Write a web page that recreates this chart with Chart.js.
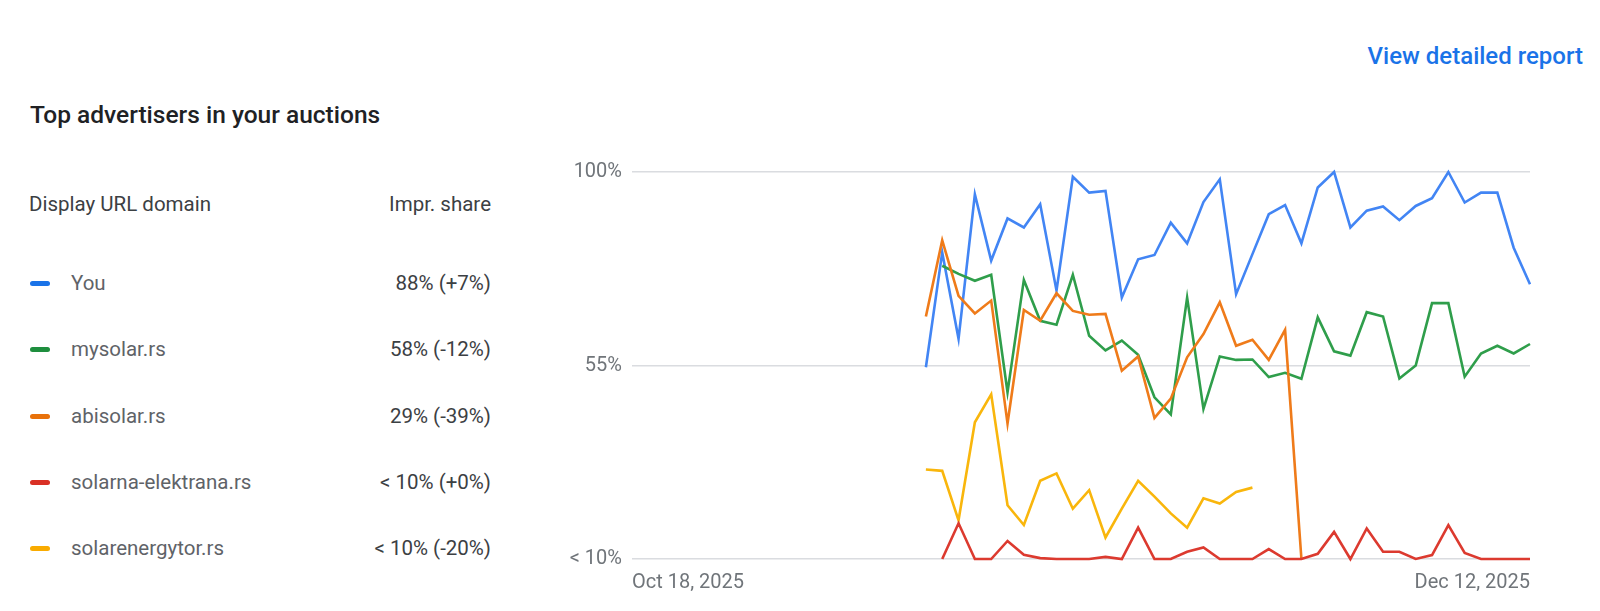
<!DOCTYPE html>
<html>
<head>
<meta charset="utf-8">
<script src="https://cdn.jsdelivr.net/npm/chart.js@4/dist/chart.umd.min.js"></script>
<style>
  html, body { margin: 0; padding: 0; background: #fff; }
  body { width: 1600px; height: 611px; position: relative; overflow: hidden; font-family: Roboto, "Noto Sans", sans-serif; }
  .link { position: absolute; right: 17px; top: 42px; font-size: 24px; line-height: 28px; font-weight: 500; color: #1a73e8; }
  .title { position: absolute; left: 30px; top: 101px; font-size: 24.5px; line-height: 28px; font-weight: 500; color: #202124; }
  .head, .row { position: absolute; left: 29px; width: 462px; height: 26px; line-height: 26px;
                display: flex; justify-content: space-between; align-items: center; font-size: 20.5px; }
  .head { color: #3c4043; }
  .row .name { display: flex; align-items: center; color: #5f6368; }
  .row .val { color: #3c4043; }
  .swatch { width: 20px; height: 5px; border-radius: 3px; margin: 0 21px 0 1px; }
  #wrap { position: absolute; left: 540px; top: 150px; width: 1000px; height: 450px; }
</style>
</head>
<body>
<div class="link">View detailed report</div>
<div class="title">Top advertisers in your auctions</div>
<div id="legend"></div>
<div id="wrap"><canvas id="chart"></canvas></div>
<script>
/* ================= DATA ================= */
const dates = [
  'Oct 18, 2025','Oct 19, 2025','Oct 20, 2025','Oct 21, 2025','Oct 22, 2025','Oct 23, 2025','Oct 24, 2025',
  'Oct 25, 2025','Oct 26, 2025','Oct 27, 2025','Oct 28, 2025','Oct 29, 2025','Oct 30, 2025','Oct 31, 2025',
  'Nov 1, 2025','Nov 2, 2025','Nov 3, 2025','Nov 4, 2025','Nov 5, 2025','Nov 6, 2025','Nov 7, 2025',
  'Nov 8, 2025','Nov 9, 2025','Nov 10, 2025','Nov 11, 2025','Nov 12, 2025','Nov 13, 2025','Nov 14, 2025',
  'Nov 15, 2025','Nov 16, 2025','Nov 17, 2025','Nov 18, 2025','Nov 19, 2025','Nov 20, 2025','Nov 21, 2025',
  'Nov 22, 2025','Nov 23, 2025','Nov 24, 2025','Nov 25, 2025','Nov 26, 2025','Nov 27, 2025','Nov 28, 2025',
  'Nov 29, 2025','Nov 30, 2025','Dec 1, 2025','Dec 2, 2025','Dec 3, 2025','Dec 4, 2025','Dec 5, 2025',
  'Dec 6, 2025','Dec 7, 2025','Dec 8, 2025','Dec 9, 2025','Dec 10, 2025','Dec 11, 2025','Dec 12, 2025'
];

const domains = ['You', 'mysolar.rs', 'abisolar.rs', 'solarna-elektrana.rs', 'solarenergytor.rs'];
const shares = ['88% (+7%)', '58% (-12%)', '29% (-39%)', '< 10% (+0%)', '< 10% (-20%)'];
const swatchColors = ['#1a73e8', '#1e8e3e', '#e8710a', '#d93025', '#f9ab00'];
const lineColors = ['#4285f4', '#2f9e4b', '#ef7b1a', '#dc3a2f', '#f9b60c'];

const yTicks = [10, 55, 100];
const yTickLabels = ['< 10%', '55%', '100%'];

// impression share per day, values under 10% sit on the "< 10%" floor
const youShare = [
  null, null, null, null, null, null, null, null, null, null, null, null, null, null, null, null, null, null,
  54.6, 81.3, 61.2, 94.8, 79.4, 89.2, 87.1, 92.5, 72.4, 98.9, 95.2, 95.6, 70.8, 79.7, 80.7, 88.2, 83.4, 93.0, 98.3,
  71.6, 80.9, 90.2, 92.3, 83.4, 96.4, 100, 87.1, 91.0, 92.0, 88.8, 92.1, 93.9, 100, 92.9, 95.2, 95.2, 82.4, 73.9
];
const mysolarShare = [
  null, null, null, null, null, null, null, null, null, null, null, null, null, null, null, null, null, null,
  null, 78.2, 76.3, 74.7, 76.1, 48.8, 74.9, 65.4, 64.5, 76.1, 61.9, 58.5, 60.8, 57.5, 47.6, 43.6, 70.8, 44.9, 57.1,
  56.3, 56.4, 52.3, 53.3, 51.9, 66.2, 58.3, 57.3, 67.4, 66.4, 52.0, 55.0, 69.5, 69.5, 52.4, 57.8, 59.6, 57.8, 60.0
];
const abisolarShare = [
  null, null, null, null, null, null, null, null, null, null, null, null, null, null, null, null, null, null,
  66.4, 84.1, 71.2, 67.1, 70.1, 41.5, 67.9, 65.4, 71.8, 67.7, 66.8, 67.0, 53.8, 57.1, 42.8, 47.3, 56.9, 62.3, 69.7,
  59.6, 61.0, 56.3, 63.3, 10, null, null, null, null, null, null, null, null, null, null, null, null, null, null
];
const elektranaShare = [
  null, null, null, null, null, null, null, null, null, null, null, null, null, null, null, null, null, null,
  null, 10, 18.3, 10, 10, 14.2, 11.0, 10.2, 10, 10, 10, 10.5, 10, 17.3, 10, 10, 11.7, 12.7, 10,
  10, 10, 12.3, 10, 10, 11.2, 16.3, 10, 17.1, 11.7, 11.7, 10, 10.9, 17.9, 11.4, 10, 10, 10, 10
];
const energytorShare = [
  null, null, null, null, null, null, null, null, null, null, null, null, null, null, null, null, null, null,
  30.8, 30.5, 19.0, 41.8, 48.3, 22.5, 17.9, 28.2, 29.9, 21.7, 26.0, 15.0, 21.7, 28.2, 24.5, 20.6, 17.3, 24.1, 22.9,
  25.6, 26.6, null, null, null, null, null, null, null, null, null, null, null, null, null, null, null, null, null
];

const series = [youShare, mysolarShare, abisolarShare, elektranaShare, energytorShare];
// lower order is painted on top
const drawOrder = [5, 3, 2, 1, 4];

/* ================= LEGEND TABLE ================= */
const legend = document.getElementById('legend');
legend.innerHTML = '<div class="head" style="top:191px"><span>Display URL domain</span><span>Impr. share</span></div>' +
  domains.map((d, i) =>
    `<div class="row" style="top:${270 + Math.round(i * 66.3)}px"><span class="name">` +
    `<span class="swatch" style="background:${swatchColors[i]}"></span>${d}</span>` +
    `<span class="val">${shares[i]}</span></div>`
  ).join('');

/* ================= CHART ================= */
new Chart(document.getElementById('chart'), {
  type: 'line',
  data: {
    labels: dates,
    datasets: series.map((s, i) => ({
      label: domains[i],
      data: s,
      borderColor: lineColors[i],
      borderWidth: 2.6,
      pointRadius: 0,
      tension: 0,
      spanGaps: false,
      clip: false,
      order: drawOrder[i]
    }))
  },
  options: {
    responsive: true,
    maintainAspectRatio: false,
    animation: false,
    layout: { padding: { top: 21, right: 10 } },
    plugins: { legend: { display: false }, tooltip: { enabled: false } },
    scales: {
      x: {
        grid: { display: false },
        border: { display: false },
        afterFit: s => { s.height = 41; },
        ticks: {
          autoSkip: false,
          maxRotation: 0,
          align: 'inner',
          padding: 4,
          color: '#70757a',
          font: { family: 'Roboto', size: 20 },
          callback: (v, i) => (i === 0 || i === dates.length - 1) ? dates[i] : ''
        }
      },
      y: {
        min: 10,
        max: 100,
        afterFit: s => { s.width = 92; },
        afterBuildTicks: s => { s.ticks = yTicks.map(v => ({ value: v })); },
        grid: { color: '#dadce0', lineWidth: 1.5, drawTicks: false },
        border: { display: false },
        ticks: {
          padding: 10,
          color: '#70757a',
          font: { family: 'Roboto', size: 20 },
          callback: v => yTickLabels[yTicks.indexOf(v)]
        }
      }
    }
  }
});
</script>
</body>
</html>
